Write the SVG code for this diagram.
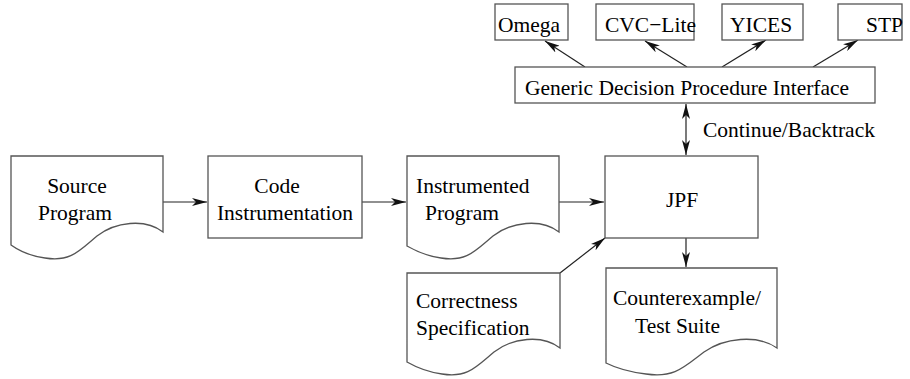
<svg xmlns="http://www.w3.org/2000/svg" width="910" height="379" viewBox="0 0 910 379">
<defs>
<marker id="ah" markerWidth="16" markerHeight="8" refX="15" refY="4" orient="auto" markerUnits="userSpaceOnUse">
<path d="M0,0 L15,4 L0,8 L4,4 Z" fill="#111"/>
</marker>
<marker id="ahs" markerWidth="16" markerHeight="8" refX="1" refY="4" orient="auto" markerUnits="userSpaceOnUse">
<path d="M16,0 L1,4 L16,8 L12,4 Z" fill="#111"/>
</marker>
</defs>
<style>
.s{fill:#fff;stroke:#555;stroke-width:1.3}
.t{font-size:21.5px;fill:#000}
.c{stroke:#222;stroke-width:1.2;fill:none}
</style>
<rect width="910" height="379" fill="#fff"/>
<g id="connectors">
<line class="c" x1="163" y1="202" x2="207" y2="202" marker-end="url(#ah)"/>
<line class="c" x1="362" y1="202" x2="406" y2="202" marker-end="url(#ah)"/>
<line class="c" x1="559" y1="202" x2="604" y2="202" marker-end="url(#ah)"/>
<line class="c" x1="560" y1="273" x2="605" y2="238" marker-end="url(#ah)"/>
<line class="c" x1="686" y1="238" x2="686" y2="267" marker-end="url(#ah)"/>
<line class="c" x1="686" y1="104" x2="686" y2="155" marker-start="url(#ahs)" marker-end="url(#ah)"/>
<line class="c" x1="585" y1="67" x2="545" y2="41" marker-end="url(#ah)"/>
<line class="c" x1="687" y1="67" x2="645" y2="41" marker-end="url(#ah)"/>
<line class="c" x1="722" y1="67" x2="766" y2="40" marker-end="url(#ah)"/>
<line class="c" x1="813" y1="67" x2="858" y2="40" marker-end="url(#ah)"/>
</g>
<g font-family="'Liberation Serif', 'DejaVu Serif', serif">
<g id="source">
<path class="s" d="M11,156 H163 V232 C145,218 115,222 97,236 C78,252 70,262 45,258 C30,256 18,250 11,245 Z"/>
<text class="t" x="77" y="193" text-anchor="middle">Source</text>
<text class="t" x="75" y="220" text-anchor="middle">Program</text>
</g>
<g id="code">
<rect class="s" x="208" y="156" width="154" height="82"/>
<text class="t" x="277" y="193" text-anchor="middle">Code</text>
<text class="t" x="285" y="220" text-anchor="middle">Instrumentation</text>
</g>
<g id="instrumented">
<path class="s" d="M407,156 H559 V232 C541,218 511,222 493,236 C474,252 466,262 441,258 C426,256 414,250 407,246 Z"/>
<text class="t" x="416" y="193">Instrumented</text>
<text class="t" x="425" y="220">Program</text>
</g>
<g id="jpf">
<rect class="s" x="605" y="156" width="153" height="82"/>
<text class="t" x="666" y="207">JPF</text>
</g>
<g id="correctness">
<path class="s" d="M407,273 H560 V348 C542,334 512,338 494,352 C475,368 467,378 442,374 C427,372 414,366 407,362 Z"/>
<text class="t" x="416" y="308">Correctness</text>
<text class="t" x="416" y="335">Specification</text>
</g>
<g id="counterexample">
<path class="s" d="M606,268 H777 V348 C757,334 724,338 704,352 C683,368 674,378 646,374 C629,372 614,367 606,363 Z"/>
<text class="t" x="613" y="305">Counterexample/</text>
<text class="t" x="635" y="333">Test Suite</text>
</g>
<g id="generic">
<rect class="s" x="515" y="67" width="360" height="36"/>
<text class="t" x="525" y="95">Generic Decision Procedure Interface</text>
</g>
<g id="omega">
<rect class="s" x="495" y="4" width="73" height="36"/>
<text class="t" x="498" y="32">Omega</text>
</g>
<g id="cvclite">
<rect class="s" x="596" y="4" width="98" height="36"/>
<text class="t" x="605" y="32">CVC−Lite</text>
</g>
<g id="yices">
<rect class="s" x="722" y="4" width="81" height="36"/>
<text class="t" x="730" y="32">YICES</text>
</g>
<g id="stp">
<rect class="s" x="838" y="4" width="64" height="36"/>
<text class="t" x="866" y="32">STP</text>
</g>
<g id="label">
<text class="t" x="703" y="137">Continue/Backtrack</text>
</g>
</g>
</svg>
